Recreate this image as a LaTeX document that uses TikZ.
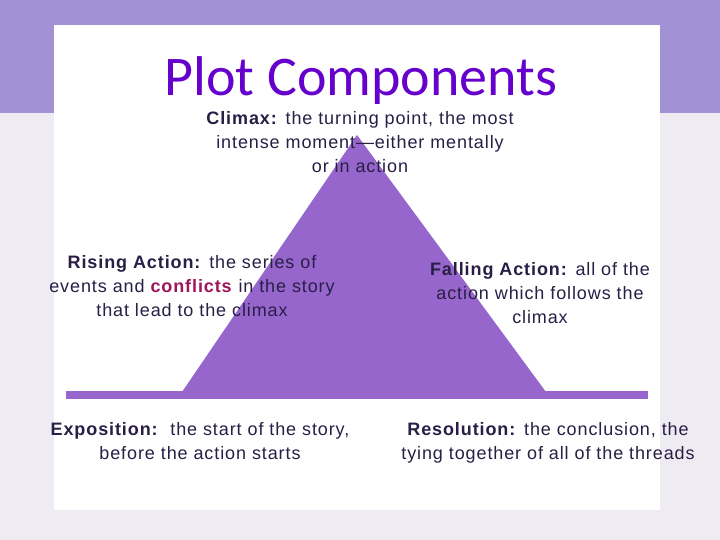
\documentclass[tikz,border=0pt]{standalone}
\usepackage{fontspec}
\setmainfont{Liberation Sans}[LetterSpace=5]
\newfontfamily\titlefont{Carlito}
\usepackage{xcolor}
\usepackage{tikz}
\usetikzlibrary{positioning}
\definecolor{plotpurple}{RGB}{150,102,204}
\definecolor{bandpurple}{RGB}{163,145,214}
\definecolor{paper}{RGB}{238,236,242}
\definecolor{titlepurple}{RGB}{102,0,204}
\definecolor{inkblue}{RGB}{40,30,70}
\definecolor{conflictred}{RGB}{160,20,90}

\begin{document}
\begin{tikzpicture}[
        x=1pt, y=-1pt,
        label text/.style={inner sep=0pt, align=center, text=inkblue,
                    font=\fontsize{18}{24}\selectfont, anchor=north},
        heading/.style={inner sep=0pt, text=titlepurple,
                    font=\titlefont\fontsize{56}{62}\selectfont, anchor=base}
      ]
        % slide background
        \fill[paper] (0,0) rectangle (720,540);
        \fill[bandpurple] (0,0) rectangle (720,113);
        \fill[white] (54,25) rectangle (660,510);
        \useasboundingbox (0,0) rectangle (720,540);

        % plot line and mountain
        \fill[plotpurple] (66,391) rectangle (648,399);
        \fill[plotpurple] (182,392) -- (357,135) -- (546,392) -- cycle;

        \node[heading] (title) at (361,96) {Plot Components};
        \node[label text] (climax) at (360,111)
          {\textbf{Climax:} the turning point, the most\\
           intense moment---either mentally\\ or in action};
        \node[label text] (rising) at (192,255)
          {\textbf{Rising Action:} the series of\\
           events and \textcolor{conflictred}{\textbf{conflicts}} in the story\\
           that lead to the climax};
        \node[label text] (falling) at (540,262)
          {\textbf{Falling Action:} all of the\\
           action which follows the\\ climax};
        \node[label text] (expo) at (200,422)
          {\textbf{Exposition:}\ \ the start of the story,\\
           before the action starts};
        \node[label text] (resol) at (548,422)
          {\textbf{Resolution:} the conclusion, the\\
           tying together of all of the threads};
      \end{tikzpicture}
\end{document}
